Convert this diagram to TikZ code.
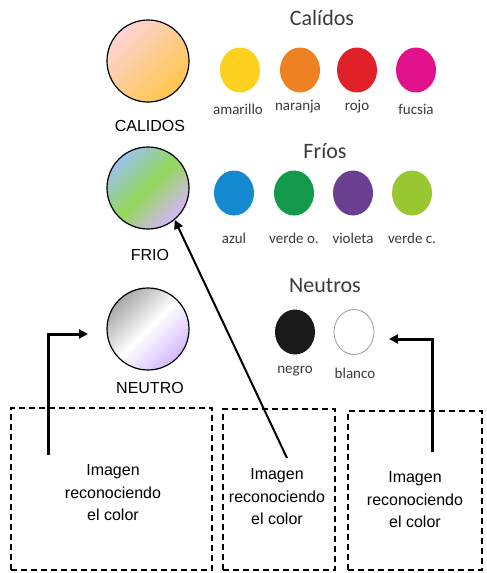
\documentclass[tikz,border=0pt]{standalone}
\usepackage{fontspec}
\setmainfont{Liberation Sans}
\newfontfamily\panelfont{Carlito}
\usetikzlibrary{arrows.meta,shapes.geometric}
\definecolor{textgrey}{HTML}{3A3A3A}
\definecolor{amarillo}{HTML}{FDD11E}
\definecolor{naranja}{HTML}{EE8122}
\definecolor{rojo}{HTML}{E02128}
\definecolor{fucsia}{HTML}{E0118A}
\definecolor{azul}{HTML}{168AD0}
\definecolor{verdeo}{HTML}{12994B}
\definecolor{violeta}{HTML}{6B3F91}
\definecolor{verdec}{HTML}{99C732}
\definecolor{negro}{HTML}{1A1A1A}
\tikzset{
  bigcircle/.style={circle, draw=black, line width=1.2pt, minimum size=82pt, inner sep=0pt},
  bigname/.style={font=\fontsize{16}{19}\selectfont},
  swatch/.style={ellipse, minimum width=40pt, minimum height=45pt, inner sep=0pt},
  swatchname/.style={font=\panelfont\fontsize{15}{18}\selectfont, text=textgrey},
  grouptitle/.style={font=\panelfont\fontsize{22}{26}\selectfont, text=textgrey},
  photobox/.style={draw, line width=1.1pt, dash pattern=on 6pt off 4pt, inner sep=0pt},
  boxtext/.style={align=center, font=\fontsize{16}{22.5}\selectfont},
  pointer/.style={line width=3pt, -{Triangle[length=9pt,width=9pt]}}
}

\begin{document}
\begin{tikzpicture}[x=1pt, y=-1pt]
  \useasboundingbox (0,0) rectangle (487,573);

  % circles on the left
  \node[bigcircle, top color={rgb,255:red,253;green,212;blue,214}, bottom color={rgb,255:red,255;green,198;blue,74}, shading angle=45] (calidos) at (148,61) {};
  \node[bigname] (calidosname) at (150,126) {CALIDOS};
  \node[bigcircle, top color={rgb,255:red,158;green,194;blue,236}, bottom color={rgb,255:red,216;green,180;blue,255}, middle color={rgb,255:red,146;green,216;blue,88}, shading angle=45] (frio) at (148,188) {};
  \node[bigname] (frioname) at (150,255) {FRIO};
  \node[bigcircle, top color={rgb,255:red,168;green,168;blue,168}, bottom color={rgb,255:red,212;green,184;blue,255}, middle color=white, shading angle=45] (neutro) at (148,329) {};
  \node[bigname] (neutroname) at (150,388) {NEUTRO};

  % colour chart
  \node[grouptitle] (calidostitle) at (322,18) {Calídos};
  \node[swatch, fill=amarillo] (amarillo) at (240,70) {};
  \node[swatch, fill=naranja] (naranja) at (300,70) {};
  \node[swatch, fill=rojo] (rojo) at (357,70) {};
  \node[swatch, fill=fucsia] (fucsia) at (416,70) {};
  \node[swatchname] at (238,109) {amarillo};
  \node[swatchname] at (298,107) {naranja};
  \node[swatchname] at (357,107) {rojo};
  \node[swatchname] at (416,109) {fucsia};

  \node[grouptitle] (friostitle) at (325,151) {Fríos};
  \node[swatch, fill=azul] (azul) at (234,193) {};
  \node[swatch, fill=verdeo] (verdeo) at (294,193) {};
  \node[swatch, fill=violeta] (violeta) at (353,193) {};
  \node[swatch, fill=verdec] (verdec) at (412,193) {};
  \node[swatchname] at (234,238) {azul};
  \node[swatchname] at (294,238) {verde o.};
  \node[swatchname] at (353,238) {violeta};
  \node[swatchname] at (412,238) {verde c.};

  \node[grouptitle] (neutrostitle) at (325,286) {Neutros};
  \node[swatch, fill=negro] (negro) at (295,332) {};
  \node[swatch, draw=black!40, line width=0.8pt, fill=white] (blanco) at (354,332) {};
  \node[swatchname] at (295,371) {negro};
  \node[swatchname] at (355,373) {blanco};

  % picture boxes
  \node[photobox, minimum width=201pt, minimum height=162pt] (box1) at (111.5,489) {};
  \node[photobox, minimum width=112pt, minimum height=161pt] (box2) at (279,489.5) {};
  \node[photobox, minimum width=134pt, minimum height=159pt] (box3) at (415,490.5) {};
  \node[boxtext] (text1) at (113,493) {Imagen\\reconociendo\\el color};
  \node[boxtext] (text2) at (277,497) {Imagen\\reconociendo\\el color};
  \node[boxtext] (text3) at (415,500) {Imagen\\reconociendo\\el color};

  % pointers
  \coordinate (from1) at (48,455);
  \coordinate (to1) at (88,334);
  \coordinate (from2) at (287,458);
  \coordinate (from3) at (432,452);
  \coordinate (to3) at (389,339);
  \draw[pointer] (from1) |- (to1);
  \draw[pointer, line width=2pt] (from2) -- (frio.-50);
  \draw[pointer] (from3) |- (to3);
\end{tikzpicture}
\end{document}
